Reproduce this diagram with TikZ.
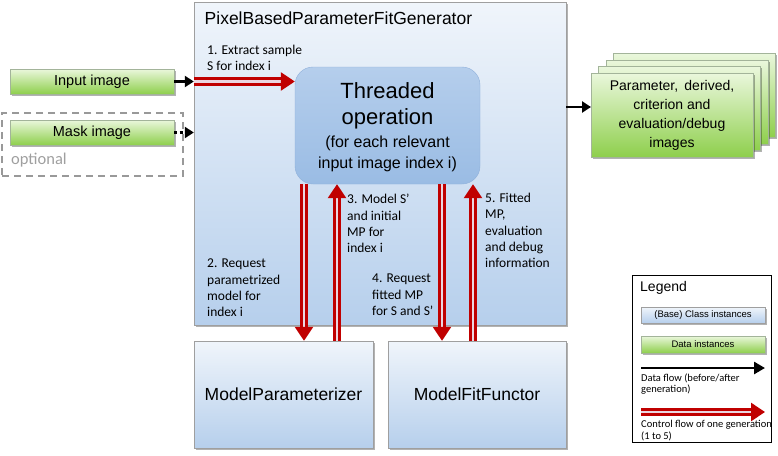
\documentclass[tikz,border=0pt]{standalone}
\usepackage{fontspec}
\setmainfont{Liberation Sans}
\newfontfamily\calfont{Carlito}
\usetikzlibrary{arrows.meta,shadows,decorations.markings}
\definecolor{cred}{HTML}{C00000}
\definecolor{cpink}{HTML}{EBD6E0}
\definecolor{cbtop}{HTML}{F0F5FB}
\definecolor{cbbot}{HTML}{B6CFEC}
\definecolor{cttop}{HTML}{B5CEEC}
\definecolor{ctbot}{HTML}{9ABCE4}
\definecolor{ctborder}{HTML}{8FB0DA}
\definecolor{cgtop}{HTML}{EAF7DC}
\definecolor{cgbot}{HTML}{8ECF4C}
\definecolor{cgborder}{HTML}{A3B49A}
\tikzset{
  shad/.style={drop shadow={shadow xshift=1.5pt,shadow yshift=-1.5pt,opacity=0.3,fill=black}},
  cls/.style={rectangle,draw=gray!75,top color=cbtop,bottom color=cbbot,inner sep=0pt,shad},
  dat/.style={rectangle,draw=cgborder,top color=cgtop,bottom color=cgbot,inner sep=0pt,shad},
  thrbox/.style={rectangle,rounded corners=18pt,draw=ctborder,top color=cttop,bottom color=ctbot,inner sep=0pt},
  lbl/.style={font=\calfont\fontsize{13.5}{16.4}\selectfont,align=left,anchor=west,inner sep=0pt},
  smalllbl/.style={font=\calfont\fontsize{10.5}{11.5}\selectfont,align=left,anchor=west,inner sep=0pt},
  dflow/.style={draw=black,line width=2.6pt,-{Triangle[length=9pt,width=11pt]}},
  ctrl/.style={draw=cpink,line width=2.6pt,shorten >=12pt,
    preaction={draw=cred,line width=8.6pt,shorten >=12pt},
    postaction={decorate,decoration={markings,mark=at position 1 with {\arrow{Triangle[length=14pt,width=18pt,color=cred,fill=cred]}}}}}
}
\begin{document}
\begin{tikzpicture}[x=1pt,y=-1pt]
\useasboundingbox (0,0) rectangle (778,455);
% main generator box
\node[cls,minimum width=372pt,minimum height=323pt] (gen) at (380,163.5) {};
\node[anchor=west,inner sep=0pt,font=\fontsize{17.5}{21}\selectfont] (title) at (204.5,18.5) {PixelBasedParameterFitGenerator};
% threaded operation
\node[thrbox,minimum width=185pt,minimum height=117pt] (thr) at (387.5,125.5) {};
\node[align=center,inner sep=0pt,font=\fontsize{22}{26}\selectfont] (thra) at (387.5,105.5) {Threaded\\operation};
\node[align=center,inner sep=0pt,font=\fontsize{16}{20.5}\selectfont] (thrb) at (387.5,154) {(for each relevant\\input image index i)};
% inputs
\node[rectangle,draw=gray!80,dashed,dash pattern=on 7pt off 5pt,line width=1.6pt,minimum width=181pt,minimum height=63pt] (opt) at (92.5,144.5) {};
\node[anchor=west,inner sep=0pt,text=gray!75,font=\calfont\fontsize{16.5}{18}\selectfont] (opttext) at (11,160) {optional};
\node[dat,minimum width=164pt,minimum height=25pt,font=\fontsize{14.5}{17}\selectfont] (inp) at (92,81.5) {Input image};
\node[dat,minimum width=164pt,minimum height=25pt,font=\fontsize{14.5}{17}\selectfont] (mask) at (92,132.5) {Mask image};
% output stack
\node[dat,minimum width=162pt,minimum height=84pt] (out4) at (694.5,95.5) {};
\node[dat,minimum width=162pt,minimum height=84pt] (out3) at (687,102) {};
\node[dat,minimum width=162pt,minimum height=84pt] (out2) at (679.5,108.5) {};
\node[dat,minimum width=162pt,minimum height=84pt] (out1) at (672,115) {};
\node[align=center,inner sep=0pt,font=\fontsize{14}{19}\selectfont] (outtext) at (672,115) {Parameter,\, derived,\\criterion and\\evaluation/debug\\images};
% sub components
\node[cls,minimum width=179pt,minimum height=107pt,font=\fontsize{17.5}{21}\selectfont] (mp) at (283.5,394.5) {ModelParameterizer};
\node[cls,minimum width=178pt,minimum height=107pt,font=\fontsize{17.5}{21}\selectfont] (mff) at (477,394.5) {ModelFitFunctor};
% data flow arrows
\draw[dflow] (inp.east) -- (inp.east -| gen.west);
\draw[dflow,dash pattern=on 3pt off 2.5pt] (mask.east) -- (mask.east -| gen.west);
\coordinate (outa) at (566,107);
\coordinate (outb) at (591,107);
\draw[dflow] (outa) -- (outb);
% control flow arrows
\draw[ctrl] (inp.east -| gen.west) -- (inp.east -| thr.west);
\draw[ctrl] (304,0 |- thr.south) -- (304,0 |- mp.north);
\draw[ctrl] (337,0 |- mp.north) -- (337,0 |- thr.south);
\draw[ctrl] (442,0 |- thr.south) -- (442,0 |- mff.north);
\draw[ctrl] (473,0 |- mff.north) -- (473,0 |- thr.south);
% labels
\node[lbl] (l1) at (207,58) {1. Extract sample\\S for index i};
\node[lbl] (l2) at (207,288) {2. Request\\parametrized\\model for\\index i};
\node[lbl] (l3) at (347,223.5) {3. Model S’\\and initial\\MP for\\index i};
\node[lbl] (l4) at (372,295) {4. Request\\fitted MP\\for S and S’};
\node[lbl] (l5) at (485,230.5) {5. Fitted\\MP,\\evaluation\\and debug\\information};
% legend
\node[rectangle,draw=black,line width=0.8pt,minimum width=139pt,minimum height=167pt,inner sep=0pt] (leg) at (701.5,358.5) {};
\node[anchor=west,inner sep=0pt,font=\fontsize{14}{16}\selectfont] (legt) at (640,288) {Legend};
\node[cls,minimum width=124pt,minimum height=16pt,font=\fontsize{9.5}{11}\selectfont] (legc) at (703,315) {(Base) Class instances};
\node[dat,minimum width=124pt,minimum height=17pt,font=\fontsize{9.5}{11}\selectfont] (legd) at (703,344.5) {Data instances};
\coordinate (lda) at (641,368);
\coordinate (ldb) at (765,368);
\draw[dflow,-{Triangle[length=11pt,width=12pt]}] (lda) -- (ldb);
\node[smalllbl] (legdt) at (641,384) {Data flow (before/after\\generation)};
\coordinate (lca) at (641,412);
\coordinate (lcb) at (765,412);
\draw[ctrl] (lca) -- (lcb);
\node[smalllbl] (legct) at (641,430.5) {Control flow of one generation\\(1 to 5)};
\end{tikzpicture}
\end{document}
